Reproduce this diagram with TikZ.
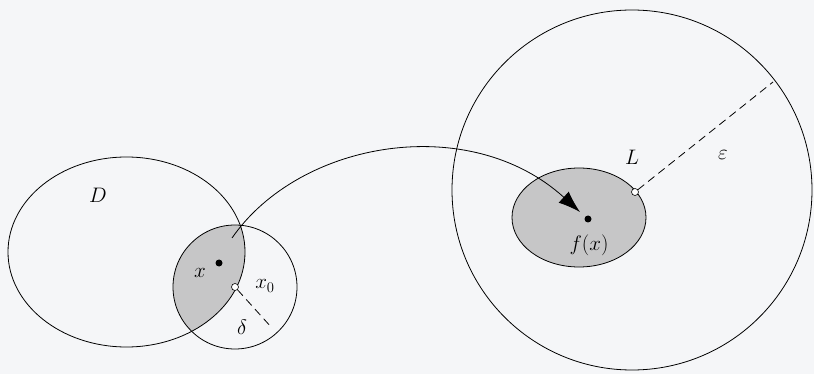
\documentclass[tikz,border=0pt]{standalone}
\usepackage{fix-cm}
\usetikzlibrary{arrows.meta}
\definecolor{pagebg}{RGB}{245,246,248}
\definecolor{regiongray}{RGB}{198,198,199}
\begin{document}
\begin{tikzpicture}[x=1pt,y=-1pt, line width=0.8pt,
  lbl/.style={inner sep=0pt, font=\fontsize{21}{24}\selectfont},
  blackdot/.style={circle, fill=black, inner sep=0pt, minimum size=7pt},
  whitedot/.style={circle, draw=black, fill=white, inner sep=0pt, minimum size=7pt, line width=0.6pt},
  rad/.style={dash pattern=on 8pt off 5pt, line width=0.8pt}]
\path[use as bounding box, fill=pagebg] (0,0) rectangle (814,374);
% shaded regions
\begin{scope}
  \clip (126.5,252) ellipse [x radius=118.5, y radius=95];
  \fill[regiongray] (235,287) circle [radius=62];
\end{scope}
\fill[regiongray] (579,217.5) ellipse [x radius=67, y radius=49.5];
% outlines
\draw (126.5,252) ellipse [x radius=118.5, y radius=95];
\draw (235,287) circle [radius=62];
\draw (632,190) circle [radius=180];
\draw (579,217.5) ellipse [x radius=67, y radius=49.5];
% points
\node[blackdot] (x) at (219,263) {};
\node[whitedot] (x0) at (235,287) {};
\node[blackdot] (fx) at (588,219) {};
\node[whitedot] (Lpt) at (635,192) {};
\coordinate (deltaend) at (272,328);
\coordinate (epsend) at (773,82);
\coordinate (start) at (232,238);
\coordinate (tip) at (580,212);
% radii
\draw[rad] (x0) -- (deltaend);
\draw[rad] (Lpt) -- (epsend);
% map arrow
\draw[-{Latex[length=22pt,width=15pt]}] (start) .. controls (300,140) and (470,112) .. (tip);
% labels
\node[lbl] (lD) at (98,195) {$D$};
\node[lbl] (lx) at (200,273) {$x$};
\node[lbl] (lx0) at (265,286) {$x_0$};
\node[lbl] (ld) at (242,327) {$\delta$};
\node[lbl] (lL) at (632,157) {$L$};
\node[lbl] (le) at (723,155) {$\varepsilon$};
\node[lbl] (lfx) at (589,245) {$f(x)$};
\end{tikzpicture}
\end{document}
